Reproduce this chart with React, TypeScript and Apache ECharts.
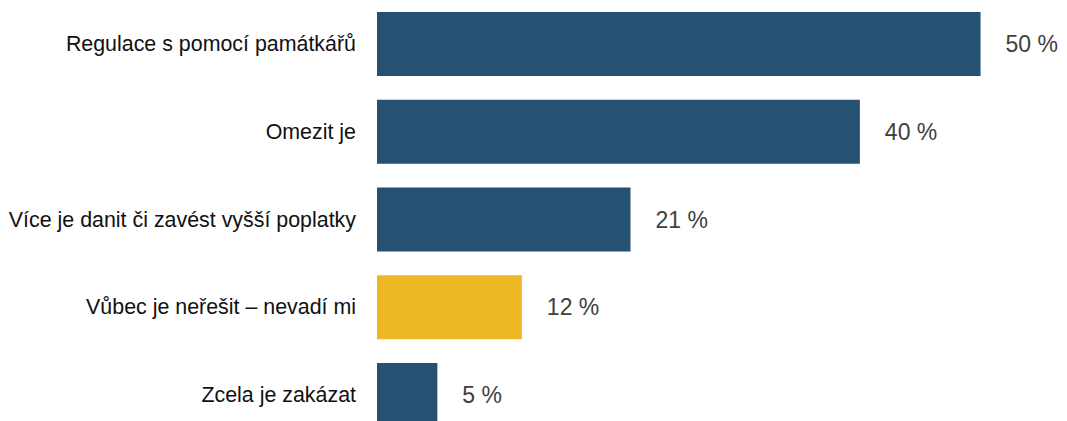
import React, { useEffect, useRef } from "react";
import * as echarts from "echarts";

const categories = [
  "Regulace s pomocí památkářů",
  "Omezit je",
  "Více je danit či zavést vyšší poplatky",
  "Vůbec je neřešit – nevadí mi",
  "Zcela je zakázat",
];
const values = [50, 40, 21, 12, 5];
const highlighted = [false, false, false, true, false];

const NAVY = "#255172";
const YELLOW = "#EDB824";

export default function App() {
  const ref = useRef<HTMLDivElement>(null);
  useEffect(() => {
    if (!ref.current) return;
    const chart = echarts.init(ref.current, undefined, { renderer: "svg" });
    chart.setOption({
      animation: false,
      grid: { left: 377, right: 14, top: -1, height: 440, containLabel: false },
      xAxis: {
        type: "value",
        min: 0,
        max: 56,
        show: false,
        splitLine: { show: false },
      },
      yAxis: {
        type: "category",
        data: categories,
        inverse: true,
        axisLine: { show: false },
        axisTick: { show: false },
        axisLabel: {
          margin: 21,
          color: "#111111",
          fontSize: 21.4,
          fontFamily: "'Liberation Sans', Arial, sans-serif",
        },
      },
      series: [
        {
          type: "bar",
          barWidth: 64,
          data: values.map((v, i) => ({
            value: v,
            itemStyle: { color: highlighted[i] ? YELLOW : NAVY },
          })),
          label: {
            show: true,
            position: "right",
            distance: 25,
            formatter: "{c} %",
            color: "#404040",
            fontSize: 23,
            fontFamily: "'Liberation Sans', Arial, sans-serif",
          },
        },
      ],
    });
    return () => chart.dispose();
  }, []);
  return (
    <div
      ref={ref}
      style={{ position: "absolute", top: 0, left: 0, width: 1067, height: 440 }}
    />
  );
}
